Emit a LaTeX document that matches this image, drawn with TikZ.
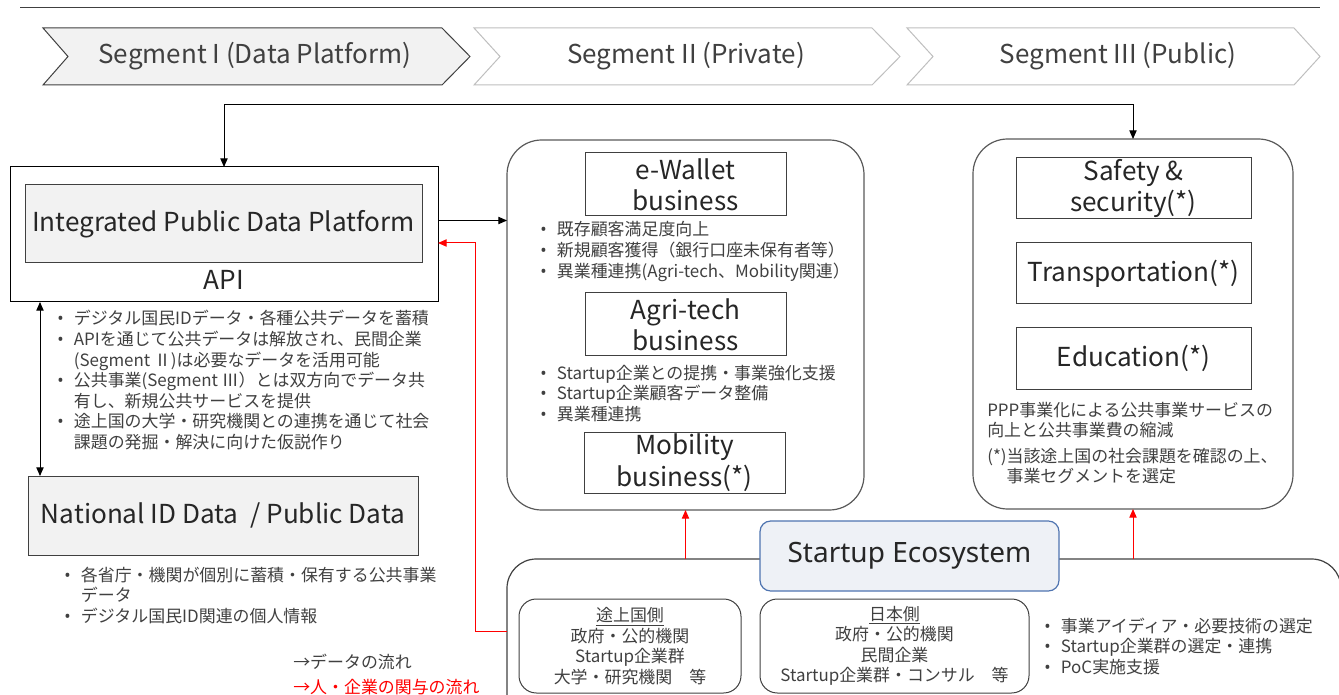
\documentclass[tikz,border=0pt]{standalone}
\usepackage{fontspec}
\setmainfont{Noto Sans CJK JP}
\newfontfamily\latinfont{Noto Sans}
\usepackage{xcolor}
\usepackage{tikz}
\usetikzlibrary{arrows.meta, calc}

\definecolor{txt}{HTML}{404040}
\definecolor{title}{HTML}{262626}
\definecolor{boxfill}{HTML}{F2F2F2}
\definecolor{boxline}{HTML}{404040}
\definecolor{segline}{HTML}{595959}
\definecolor{chevline}{HTML}{BFBFBF}
\definecolor{ecofill}{HTML}{EEF1F6}
\definecolor{ecoline}{HTML}{4F74B0}

\newcommand{\segfont}{\fontsize{19.5pt}{23pt}\selectfont}
\newcommand{\boxfont}{\fontsize{19.6pt}{23.5pt}\selectfont}
\newcommand{\notefont}{\fontsize{12.7pt}{15.4pt}\selectfont}
\newcommand{\bu}{\makebox[12.5pt][l]{{\latinfont\textbullet}}}
\newcommand{\ind}{\hspace*{12.5pt}}
\newcommand{\lines}[1]{\begin{tabular}[t]{@{}l@{}}#1\end{tabular}}

\begin{document}
\begin{tikzpicture}[x=0.75pt, y=-0.75pt, >={Triangle[length=6.5pt,width=5.5pt]}]

% Stili
\tikzset{
  sized/.style 2 args={minimum width=#1*0.75pt, minimum height=#2*0.75pt, inner sep=0pt, outer sep=0pt},
  chevron/.style={draw=chevline, fill=white, line width=0.75pt},
  segtitle/.style={font=\segfont, text=txt},
  graybox/.style={draw=boxline, fill=boxfill, line width=0.75pt, font=\boxfont, text=title, align=center},
  plainbox/.style={draw=boxline, line width=0.75pt, font=\boxfont, text=title, align=center},
  roundbox/.style={draw=segline, line width=0.9pt, rounded corners=26pt},
  sidebox/.style={draw=boxline, line width=0.75pt, rounded corners=13pt, font=\notefont, text=txt, align=center},
  notes/.style={anchor=base west, inner sep=0pt, font=\notefont, text=txt},
  redflow/.style={->, draw=red, line width=0.75pt},
}

\useasboundingbox (0,0) rectangle (1339,695);
\clip (0,0) rectangle (1339,695);

% --- Intestazione: segmenti ---
\draw[txt, line width=0.6pt] (20,7) -- (1320,7);
\draw[chevron, fill=boxfill, draw=boxline] (43,28) -- (442,28) -- (470,56.5) -- (442,85) -- (43,85) -- (68,56.5) -- cycle;
\draw[chevron] (474,28) -- (872,28) -- (900,56.5) -- (872,85) -- (474,85) -- (500,56.5) -- cycle;
\draw[chevron] (907,28) -- (1294,28) -- (1320,56.5) -- (1294,85) -- (907,85) -- (933,56.5) -- cycle;
\node[segtitle] (segItitle) at (255,56.5) {Segment I (Data Platform)};
\node[segtitle] (segIItitle) at (686,56.5) {Segment II (Private)};
\node[segtitle] (segIIItitle) at (1118,56.5) {Segment III (Public)};

% --- Segment I: piattaforma dati ---
\node[draw, line width=0.75pt, sized={428}{135}] (api) at (224,234.5) {};
\node[graybox, sized={397}{78}] (idpp) at (223.5,224) {Integrated Public Data Platform};
\node[font=\boxfont, text=title] (apilbl) at (224,280) {API};

\node[notes] (apinotes) at (57,325) {\lines{%
  \bu デジタル国民IDデータ・各種公共データを蓄積\\
  \bu APIを通じて公共データは解放され、民間企業\\
  \ind (Segment Ⅱ)は必要なデータを活用可能\\
  \bu 公共事業(Segment Ⅲ）とは双方向でデータ共\\
  \ind 有し、新規公共サービスを提供\\
  \bu 途上国の大学・研究機関との連携を通じて社会\\
  \ind 課題の発掘・解決に向けた仮説作り}};

\node[graybox, sized={390}{79}] (natid) at (223,515.5) {National ID Data\ \ / Public Data};
\node[notes] (natnotes) at (64,581) {\lines{%
  \bu 各省庁・機関が個別に蓄積・保有する公共事業\\
  \ind データ\\
  \bu デジタル国民ID関連の個人情報}};

% Legenda
\node[notes] (legdata) at (293,668) {→データの流れ};
\node[notes, text=red] (legpeople) at (293,693) {→人・企業の関与の流れ};

% --- Segment II: privato ---
\node[roundbox, sized={357}{370}] (segII) at (685.5,325) {};
\node[plainbox, sized={201}{63}] (ewallet) at (685.5,184.5) {e-Wallet\\business};
\node[notes] (ewnotes) at (540,236) {\lines{%
  \bu 既存顧客満足度向上\\
  \bu 新規顧客獲得（銀行口座未保有者等）\\
  \bu 異業種連携(Agri-tech、Mobility関連）}};
\node[plainbox, sized={201}{63}] (agri) at (685.5,324.5) {Agri-tech\\business};
\node[notes] (agnotes) at (540,379) {\lines{%
  \bu Startup企業との提携・事業強化支援\\
  \bu Startup企業顧客データ整備\\
  \bu 異業種連携}};
\node[plainbox, sized={201}{61}] (mobility) at (684.5,462.5) {Mobility\\business(*)};

% --- Segment III: pubblico ---
\node[roundbox, sized={320}{370}] (segIII) at (1133,324) {};
\node[plainbox, sized={235}{61}] (safety) at (1133.5,188.5) {Safety \&\\security(*)};
\node[plainbox, sized={235}{61}] (transport) at (1133.5,273.5) {Transportation(*)};
\node[plainbox, sized={235}{61}] (education) at (1133.5,358.5) {Education(*)};
\node[notes] (pppnote) at (987,416) {\lines{%
  PPP事業化による公共事業サービスの\\
  向上と公共事業費の縮減}};
\node[notes] (starnote) at (987,462) {\lines{%
  (*)当該途上国の社会課題を確認の上、\\
  \phantom{(*)}事業セグメントを選定}};

% --- Startup Ecosystem ---
\node[draw=boxline, line width=0.9pt, rounded corners=22pt, sized={834}{201}] (eco) at (924,659.5) {};
\node[draw=ecoline, fill=ecofill, line width=0.9pt, rounded corners=8pt, sized={299}{70},
  font={\latinfont\fontsize{21pt}{24pt}\selectfont}, text=title] (ecotitle) at (909.5,556) {Startup Ecosystem};
\node[sidebox, sized={222}{94}] (hostside) at (630,646) {\underline{途上国側}\\政府・公的機関\\Startup企業群\\大学・研究機関　等};
\node[sidebox, sized={269}{94}] (japanside) at (894.5,646) {\underline{日本側}\\政府・公的機関\\民間企業\\Startup企業群・コンサル　等};
\node[notes] (econotes) at (1044,632) {\lines{%
  \bu 事業アイディア・必要技術の選定\\
  \bu Startup企業群の選定・連携\\
  \bu PoC実施支援}};

% Frecce: flusso dei dati
\draw[<->, line width=0.75pt] (api.north) -- ++(0,-62) -| (segIII.north);
\coordinate (apiout) at ($(api.east)+(0,-14)$);
\draw[->, line width=0.75pt] (apiout) -- (apiout -| segII.west);
\coordinate (vlink) at ($(api.south west)+(30,0)$);
\draw[<->, line width=0.75pt] (vlink) -- (vlink |- natid.north);

% Frecce: persone e imprese
\coordinate (ecoin) at ($(eco.north west)+(0,72)$);
\coordinate (apiin) at ($(api.east)+(0,8.5)$);
\draw[redflow] (ecoin) -- ++(-32,0) |- (apiin);
\draw[redflow] (segII.south |- eco.north) -- (segII.south);
\draw[redflow] (segIII.south |- eco.north) -- (segIII.south);
\end{tikzpicture}
\end{document}
